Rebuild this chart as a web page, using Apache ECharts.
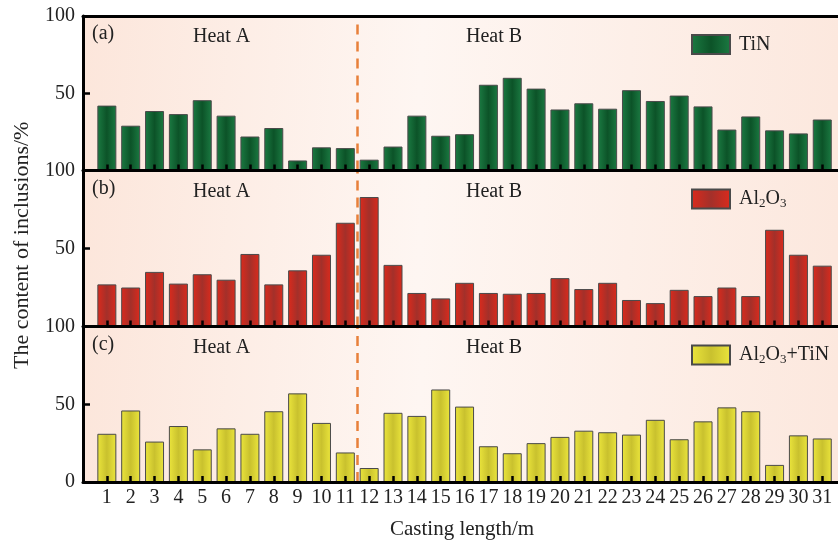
<!DOCTYPE html>
<html>
<head>
<meta charset="utf-8">
<script src="https://cdn.jsdelivr.net/npm/echarts@6/dist/echarts.min.js"></script>
<style>
  html, body { margin: 0; padding: 0; background: #fff; }
  #chart { width: 838px; height: 544px; }
</style>
</head>
<body>
<div id="chart"></div>
<script>
const positions = [1,2,3,4,5,6,7,8,9,10,11,12,13,14,15,16,17,18,19,20,21,22,23,24,25,26,27,28,29,30,31];
const tinValues = [42,29,38.5,36.5,45.5,35.5,22,27.5,6.5,15,14.5,7,15.5,35.5,22.5,23.5,55.5,60,53,39.5,43.5,40,52,45,48.5,41.5,26.5,35,26,24,33];
const al2o3Values = [27,25,35,27.5,33.5,30,46.5,27,36,46,66.5,83,39.5,21.5,18,28,21.5,21,21.5,31,24,28,17,15,23.5,19.5,25,19.5,62,46,39];
const mixValues = [31,46,26,36,21,34.5,31,45.5,57,38,19,9,44.5,42.5,59.5,48.5,23,18.5,25,29,33,32,30.5,40,27.5,39,48,45.5,11,30,28];
const yTicks = [0, 50, 100];
const heatSplit = 11.5;
const xMax = 31.66;

const chart = echarts.init(document.getElementById('chart'));
const font = '"Liberation Serif", "Times New Roman", serif';

const panels = [
  { tag: '(a)', name: 'TiN', legend: '{n|TiN}', values: tinValues, edge: '#1b7a42', mid: '#0c5328', top: 16, height: 154.5 },
  { tag: '(b)', name: 'Al2O3', legend: '{n|Al}{s|2}{n|O}{s|3}', values: al2o3Values, edge: '#dc2a1c', mid: '#a3302a', top: 170.5, height: 156 },
  { tag: '(c)', name: 'Al2O3+TiN', legend: '{n|Al}{s|2}{n|O}{s|3}{n|+TiN}', values: mixValues, edge: '#ebe53c', mid: '#c9c12e', top: 326.5, height: 155.5 }
];

const bg = new echarts.graphic.LinearGradient(0, 0, 1, 0.3, [
  { offset: 0, color: '#fce6db' },
  { offset: 0.45, color: '#fef6f2' },
  { offset: 1, color: '#fce8de' }
]);

const grids = [], xAxes = [], yAxes = [], series = [], legends = [], graphics = [];

panels.forEach((p, i) => {
  const last = i === panels.length - 1;
  grids.push({
    left: 83, right: 0, top: p.top, height: p.height,
    show: true, backgroundColor: bg, borderWidth: 0
  });
  xAxes.push({
    gridIndex: i, type: 'value', min: 0, max: xMax, interval: 1, z: 5,
    axisLine: { show: true, lineStyle: { color: '#000', width: 3 } },
    axisTick: {
      show: true, inside: true, length: 6, customValues: positions,
      lineStyle: { color: '#000', width: 2.5 }
    },
    axisLabel: {
      show: last, margin: 6, color: '#222', fontFamily: font, fontSize: 20,
      customValues: positions
    },
    splitLine: { show: false }
  });
  yAxes.push({
    gridIndex: i, type: 'value', min: yTicks[0], max: yTicks[2], interval: 50, z: 5,
    axisLine: { show: true, lineStyle: { color: '#000', width: 3 } },
    axisTick: { show: true, inside: true, length: 7, lineStyle: { color: '#000', width: 2.5 } },
    axisLabel: {
      margin: 8, color: '#222', fontFamily: font, fontSize: 20,
      formatter: v => (v === 0 && !last) ? '' : String(v)
    },
    splitLine: { show: false }
  });
  series.push({
    name: p.name, type: 'bar', xAxisIndex: i, yAxisIndex: i, barWidth: 19,
    data: positions.map((x, k) => [x, p.values[k]]),
    itemStyle: {
      color: new echarts.graphic.LinearGradient(0, 0, 1, 0, [
        { offset: 0, color: p.edge },
        { offset: 0.5, color: p.mid },
        { offset: 1, color: p.edge }
      ]),
      borderColor: '#4a4a4a', borderWidth: 1
    },
    markLine: {
      silent: true, symbol: 'none', label: { show: false },
      lineStyle: { color: '#e8803a', type: [10, 7], width: 2.5 },
      data: [{ xAxis: heatSplit }]
    }
  });
  legends.push({
    data: [{ name: p.name, icon: 'rect' }], left: 691, top: p.top + 18, padding: 0,
    itemWidth: 38, itemHeight: 19, itemGap: 0,
    formatter: () => p.legend,
    textStyle: {
      padding: [0, 0, 0, 4],
      rich: {
        n: { fontFamily: font, fontSize: 20, color: '#222' },
        s: { fontFamily: font, fontSize: 13, color: '#222', padding: [10, 0, 0, 0] }
      }
    }
  });
  graphics.push(
    { type: 'text', left: 92, top: p.top + 8, style: { text: p.tag, font: '20px ' + font, fill: '#222' } },
    { type: 'text', left: 193, top: p.top + 11, style: { text: 'Heat A', font: '20px ' + font, fill: '#222' } },
    { type: 'text', left: 466, top: p.top + 11, style: { text: 'Heat B', font: '20px ' + font, fill: '#222' } }
  );
});

// frame line along the top of panel (a)
xAxes.push({
  gridIndex: 0, type: 'value', min: 0, max: xMax, position: 'top', z: 5,
  axisLine: { show: true, lineStyle: { color: '#000', width: 3 } },
  axisTick: { show: false }, axisLabel: { show: false }, splitLine: { show: false }
});

graphics.push(
  { type: 'text', x: 11, y: 369, rotation: Math.PI / 2,
    style: { text: 'The content of inclusions/%', font: '22px ' + font, fill: '#222' } },
  { type: 'text', left: 390, top: 519, style: { text: 'Casting length/m', font: '21px ' + font, fill: '#222' } }
);

chart.setOption({
  animation: false,
  backgroundColor: '#fff',
  grid: grids,
  xAxis: xAxes,
  yAxis: yAxes,
  legend: legends,
  graphic: graphics,
  series: series
});
</script>
</body>
</html>
